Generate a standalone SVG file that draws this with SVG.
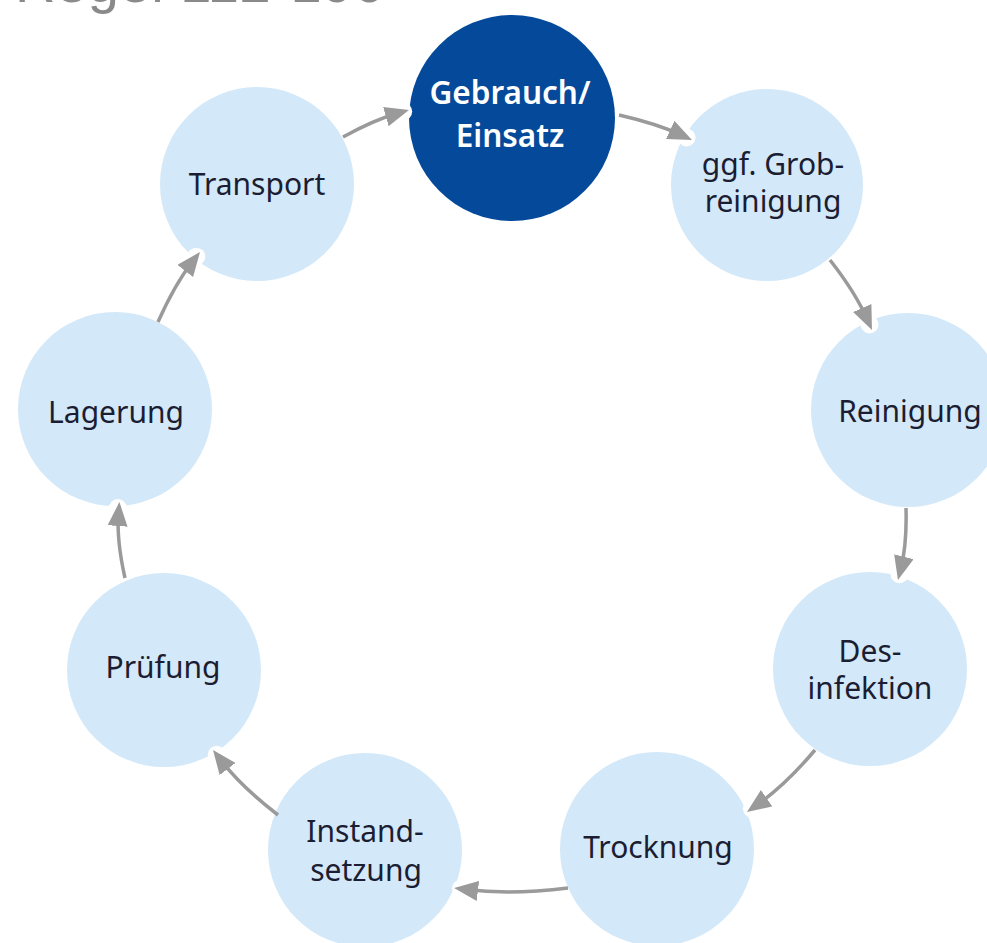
<svg xmlns="http://www.w3.org/2000/svg" width="987" height="943" viewBox="0 0 987 943">
  <style>
    .node { fill: #d3e8f8; }
    .main { fill: #05499a; }
    .lbl { font-family: "Noto Sans", "Open Sans", sans-serif; font-size: 30px; fill: #1b1d33; text-anchor: middle; }
    .lblw { font-family: "Noto Sans", "Open Sans", sans-serif; font-size: 31.5px; font-weight: 600; fill: #ffffff; text-anchor: middle; }
    .title { font-family: "Liberation Sans", Arial, sans-serif; font-size: 56px; fill: #8a8a8a; }
    .edge { fill: none; stroke: #9a9a9a; stroke-width: 3.5; marker-end: url(#arrow); }
    .notch { fill: #ffffff; }
  </style>
  <defs>
    <marker id="arrow" markerUnits="userSpaceOnUse" markerWidth="26" markerHeight="22" refX="12" refY="10" orient="auto">
      <path d="M0,0 L24,10 L0,20 Z" fill="#9a9a9a"/>
    </marker>
  </defs>
  <rect x="0" y="0" width="987" height="943" fill="#ffffff"/>
  <text class="title" x="15" y="1.5" textLength="370" lengthAdjust="spacing">Regel 112-190</text>

  <g id="node-gebrauch"><circle class="main" cx="512" cy="118" r="103"/><text class="lblw" x="510" y="104">Gebrauch/</text><text class="lblw" x="510" y="147">Einsatz</text></g>
  <g id="node-grobreinigung"><circle class="node" cx="767" cy="185" r="96"/><text class="lbl" x="773" y="175">ggf. Grob-</text><text class="lbl" x="773" y="212">reinigung</text></g>
  <g id="node-reinigung"><circle class="node" cx="908" cy="410" r="97"/><text class="lbl" x="910" y="422">Reinigung</text></g>
  <g id="node-desinfektion"><circle class="node" cx="870" cy="669" r="97"/><text class="lbl" x="870" y="662">Des-</text><text class="lbl" x="870" y="699">infektion</text></g>
  <g id="node-trocknung"><circle class="node" cx="657" cy="849" r="97"/><text class="lbl" x="658" y="858">Trocknung</text></g>
  <g id="node-instandsetzung"><circle class="node" cx="365" cy="850" r="97"/><text class="lbl" x="365" y="842">Instand-</text><text class="lbl" x="366" y="881">setzung</text></g>
  <g id="node-pruefung"><circle class="node" cx="164" cy="670" r="97"/><text class="lbl" x="163" y="678">Prüfung</text></g>
  <g id="node-lagerung"><circle class="node" cx="115" cy="409" r="97"/><text class="lbl" x="116" y="423">Lagerung</text></g>
  <g id="node-transport"><circle class="node" cx="257" cy="184" r="97"/><text class="lbl" x="257" y="195">Transport</text></g>

  <g id="connectors">
    <circle class="notch" cx="403.2" cy="111.6" r="9"/>
    <circle class="notch" cx="686.6" cy="137.5" r="9"/>
    <circle class="notch" cx="869.6" cy="324.5" r="9"/>
    <circle class="notch" cx="899.5" cy="574.2" r="9"/>
    <circle class="notch" cx="751.9" cy="808.6" r="9"/>
    <circle class="notch" cx="461" cy="888.7" r="9"/>
    <circle class="notch" cx="216.7" cy="754.8" r="9"/>
    <circle class="notch" cx="117.8" cy="508" r="9"/>
    <circle class="notch" cx="196.3" cy="256.7" r="9"/>
    <path class="edge" d="M343,137 Q374.7,119.7 397.4,113.3"/>
    <path class="edge" d="M619,115 Q656.9,123.7 681.1,134.9"/>
    <path class="edge" d="M830,260 Q855.2,292.2 867.1,319"/>
    <path class="edge" d="M906,508 Q907,544.3 900.9,568.4"/>
    <path class="edge" d="M815,750 Q785.3,785.2 756.8,805.1"/>
    <path class="edge" d="M568,888 Q511,895 466,889.5"/>
    <path class="edge" d="M278,815 Q241.2,786.7 220.3,759.5"/>
    <path class="edge" d="M125,578 Q116.5,540.3 118.5,514"/>
    <path class="edge" d="M158,322 Q174.9,284.1 192.6,261.5"/>
  </g>
</svg>
